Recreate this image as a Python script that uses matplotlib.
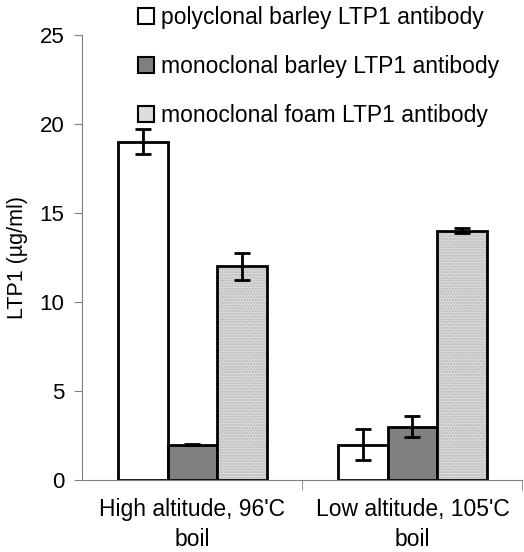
import numpy as np
import matplotlib.pyplot as plt
from matplotlib.patches import Patch

plt.rcParams['font.family'] = ['Liberation Sans', 'DejaVu Sans']
plt.rcParams['hatch.linewidth'] = 1.0

groups = ["High altitude, 96'C\nboil", "Low altitude, 105'C\nboil"]
series = ['polyclonal barley LTP1 antibody',
          'monoclonal barley LTP1 antibody',
          'monoclonal foam LTP1 antibody']
values = [[19, 2], [2, 3], [12, 14]]
errors = [[0.7, 0.85], [0.03, 0.6], [0.75, 0.15]]

fig = plt.figure(figsize=(5.24, 5.52), dpi=100)
ax = fig.add_axes([0.157, 0.130, 0.84, 0.807])

x = np.arange(len(groups))
w = 0.225
faces = ['white', '#808080', '#dcdcdc']
for i in range(3):
    pos = x + (i - 1) * w
    if i == 2:
        # stippled fill: gray dots under a black outline
        ax.bar(pos, values[i], w, color=faces[i], edgecolor='#b4b4b4',
               linewidth=0, hatch='......', zorder=2)
        ax.bar(pos, values[i], w, fill=False, edgecolor='black',
               linewidth=2, zorder=2.5)
    else:
        ax.bar(pos, values[i], w, color=faces[i], edgecolor='black',
               linewidth=2, zorder=2)
    ax.errorbar(pos, values[i], yerr=errors[i], fmt='none',
                ecolor='black', elinewidth=2, capsize=6, capthick=2, zorder=3)

ax.set_xlim(-0.5, 1.5)
ax.set_ylim(0, 25)
ax.set_yticks([0, 5, 10, 15, 20, 25])
ax.set_xticks([0, 1])
ax.set_xticklabels(groups, fontsize=16.5, linespacing=1.35)
ax.set_xticks([0.5, 1.5], minor=True)
ax.tick_params(axis='x', which='major', length=0, pad=13)
ax.tick_params(axis='x', which='minor', length=7, color='#808080')
ax.tick_params(axis='y', labelsize=16, color='#808080', length=6, pad=7)
ax.set_ylabel('LTP1 (µg/ml)', fontsize=15.5, labelpad=8)
for s in ['top', 'right']:
    ax.spines[s].set_visible(False)
for s in ['left', 'bottom']:
    ax.spines[s].set_color('#808080')

leg_handles = [Patch(facecolor=c, edgecolor='black', linewidth=1.5) for c in faces]
leg = fig.legend(leg_handles, series, loc='upper left', bbox_to_anchor=(0.224, 1.026),
                 frameon=False, fontsize=16.5, handlelength=0.7, handleheight=0.7,
                 handletextpad=0.3, labelspacing=1.12)

fig.savefig('out.png', dpi=100)
